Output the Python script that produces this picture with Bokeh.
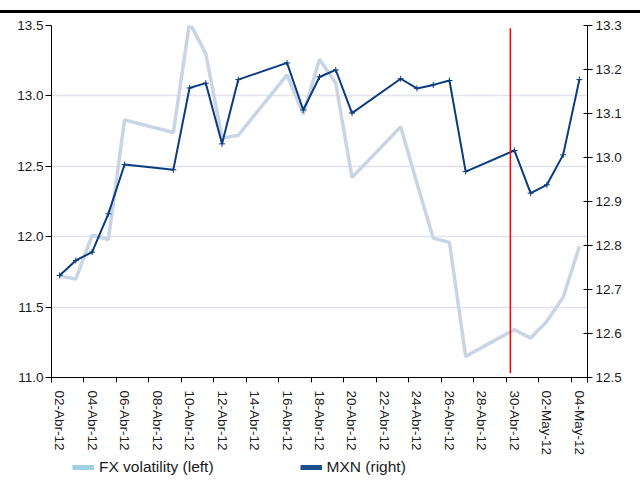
import pandas as pd
from bokeh.plotting import figure
from bokeh.layouts import column
from bokeh.models import (Range1d, LinearAxis, FixedTicker, SingleIntervalTicker,
                          NumeralTickFormatter, Legend, LegendItem, Div,
                          ColumnDataSource)
from bokeh.embed import file_html
from bokeh.resources import INLINE

# ---- data -------------------------------------------------------------
dates = ["2012-04-02", "2012-04-03", "2012-04-04", "2012-04-05", "2012-04-06",
         "2012-04-09", "2012-04-10", "2012-04-11", "2012-04-12", "2012-04-13",
         "2012-04-16", "2012-04-17", "2012-04-18", "2012-04-19", "2012-04-20",
         "2012-04-23", "2012-04-24", "2012-04-25", "2012-04-26", "2012-04-27",
         "2012-04-30", "2012-05-01", "2012-05-02", "2012-05-03", "2012-05-04"]

fx_vol = [11.72, 11.70, 12.01, 11.98, 12.83,
          12.74, 13.52, 13.30, 12.70, 12.72,
          13.15, 12.87, 13.26, 13.09, 12.42,
          12.78, 12.38, 11.99, 11.96, 11.15,
          11.34, 11.28, 11.40, 11.57, 11.93]

mxn = [12.732, 12.766, 12.785, 12.872, 12.984,
       12.972, 13.158, 13.169, 13.031, 13.177,
       13.215, 13.108, 13.183, 13.199, 13.101,
       13.179, 13.157, 13.165, 13.175, 12.968,
       13.016, 12.919, 12.938, 13.006, 13.177]

tick_labels = ["02-Abr-12", "04-Abr-12", "06-Abr-12", "08-Abr-12", "10-Abr-12",
               "12-Abr-12", "14-Abr-12", "16-Abr-12", "18-Abr-12", "20-Abr-12",
               "22-Abr-12", "24-Abr-12", "26-Abr-12", "28-Abr-12", "30-Abr-12",
               "02-May-12", "04-May-12"]

start = pd.Timestamp("2012-04-02")
end = pd.Timestamp("2012-05-04")
marker_day = 27.75          # event marker, late 29-Apr

# ---- derived positions (calendar-day offsets) --------------------------
day = [(pd.Timestamp(d) - start).days for d in dates]
n_days = (end - start).days + 1
label_days = list(range(0, n_days, 2))
boundaries = [d - 0.5 for d in label_days] + [n_days - 0.5]

src = ColumnDataSource(dict(day=day, fx=fx_vol, mxn=mxn))

FONT = "Liberation Sans"
NAVY = "#0b3b7f"
PALE = "#c9d4e4"
TICK_FS = "13.5px"

# heavy black rule across the top of the page
rule = Div(text="", width=640, height=3, margin=(10, 0, 1, 0),
           sizing_mode="fixed",
           styles={"background-color": "black", "width": "640px",
                   "min-width": "640px", "height": "3px"})

p = figure(width=640, height=444, output_backend="svg", toolbar_location=None,
           x_range=Range1d(-0.5, n_days - 0.5), y_range=Range1d(11.0, 13.5),
           min_border_left=51, min_border_right=53, min_border_top=11,
           min_border_bottom=81, outline_line_color=None,
           background_fill_color="white", border_fill_color="white")
p.extra_y_ranges = {"mxn": Range1d(12.5, 13.3)}

# left axis
p.yaxis.ticker = SingleIntervalTicker(interval=0.5)
p.yaxis.formatter = NumeralTickFormatter(format="0.0")
p.yaxis.minor_tick_line_color = None
p.yaxis.major_tick_in = 0
p.yaxis.major_tick_out = 6
p.yaxis.major_label_standoff = 2

# right axis
ax_r = LinearAxis(y_range_name="mxn", ticker=SingleIntervalTicker(interval=0.1),
                  formatter=NumeralTickFormatter(format="0.0"))
ax_r.minor_tick_line_color = None
ax_r.major_tick_in = 4
ax_r.major_tick_out = 5
ax_r.major_label_standoff = 3
p.add_layout(ax_r, "right")

# bottom axis: ticks between day slots, labels on every other day
p.xaxis.ticker = FixedTicker(ticks=label_days, minor_ticks=boundaries)
p.xaxis.major_label_overrides = {d: t for d, t in zip(label_days, tick_labels)}
p.xaxis.major_label_orientation = "vertical"
p.xaxis.major_tick_in = 0
p.xaxis.major_tick_out = 0
p.xaxis.minor_tick_in = 0
p.xaxis.minor_tick_out = 5
p.xaxis.major_label_standoff = 8

for ax in [p.xaxis[0], p.yaxis[0], ax_r]:
    ax.axis_line_color = "black"
    ax.major_tick_line_color = "black"
    ax.major_label_text_font = FONT
    ax.major_label_text_font_size = TICK_FS
    ax.major_label_text_color = "#1a1a1a"
p.xaxis.minor_tick_line_color = "black"

p.xgrid.grid_line_color = None
p.ygrid.ticker = SingleIntervalTicker(interval=0.5)
p.ygrid.grid_line_color = "#e3e3ee"
p.ygrid.grid_line_width = 1.5

# series
p.line("day", "fx", source=src, line_color=PALE, line_width=3.5)
p.line("day", "mxn", source=src, y_range_name="mxn", line_color=NAVY, line_width=2)
p.scatter("day", "mxn", source=src, y_range_name="mxn", marker="cross", size=6,
          line_color=NAVY, line_width=1)

# event marker
p.segment(x0=[marker_day], y0=[11.03], x1=[marker_day], y1=[13.48],
          line_color="#ff0000", line_width=1.5)

# legend strip underneath the chart; its swatch renderers sit outside the strip's ranges
leg = figure(width=640, height=33, output_backend="svg", toolbar_location=None,
             x_range=Range1d(0, 1), y_range=Range1d(0, 1),
             x_axis_location=None, y_axis_location=None,
             min_border=0, outline_line_color=None,
             background_fill_color="white", border_fill_color="white")
leg.xgrid.grid_line_color = None
leg.ygrid.grid_line_color = None
sw_fx = leg.line("day", "fx", source=src, line_color="#9fd0e6", line_width=5)
sw_mxn = leg.line("day", "mxn", source=src, line_color="#1f4e8c", line_width=5)
legend = Legend(items=[LegendItem(label="FX volatility (left)", renderers=[sw_fx]),
                       LegendItem(label="MXN (right)", renderers=[sw_mxn])],
                location=(21, 15), orientation="horizontal",
                border_line_color=None, background_fill_alpha=0,
                padding=0, margin=0, spacing=86, glyph_width=22, glyph_height=18,
                label_height=18, label_standoff=5, label_text_font=FONT,
                label_text_font_size="15.5px", label_text_color="#1a1a1a")
leg.add_layout(legend, "center")

page = column(rule, p, leg, spacing=0)
open("out.html", "w").write(file_html(page, INLINE))
